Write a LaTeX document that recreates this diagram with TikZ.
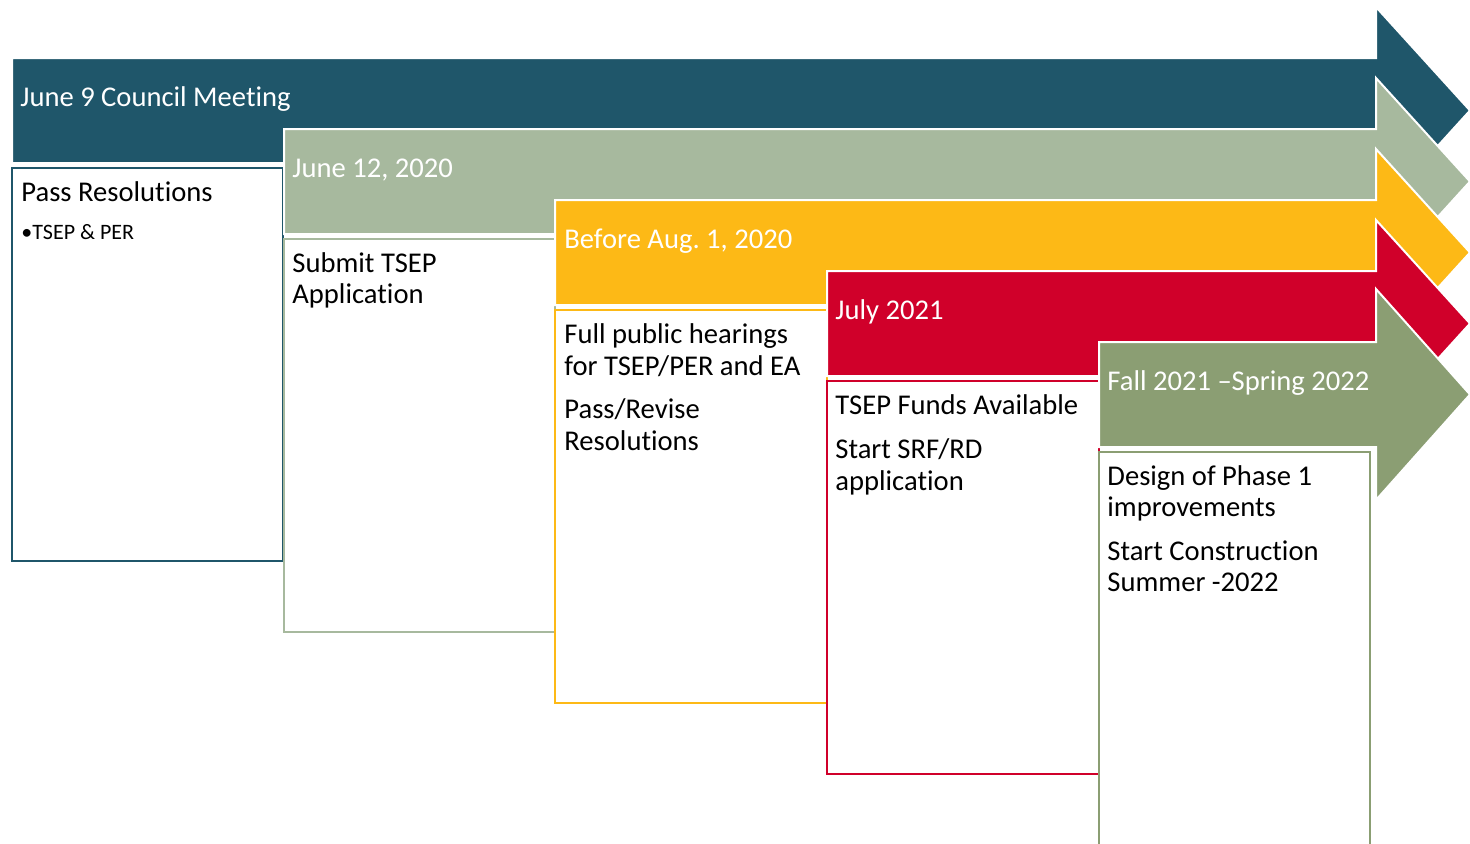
\documentclass[tikz,border=0pt]{standalone}
\usepackage{fontspec}
\setmainfont{Carlito}[Ligatures={NoCommon}]
\frenchspacing
\definecolor{cTeal}{RGB}{31,86,106}
\definecolor{cSage}{RGB}{167,185,158}
\definecolor{cGold}{RGB}{253,185,22}
\definecolor{cRed}{RGB}{208,0,42}
\definecolor{cOlive}{RGB}{139,158,115}
\begin{document}
\begin{tikzpicture}[x=0.5pt,y=-0.5pt,
  band/.style={draw=white,line width=1pt,line join=miter},
  card/.style={fill=white,line width=1pt},
  title/.style={anchor=base west,inner sep=0pt,text=white,font=\fontsize{14.3}{15.5}\selectfont},
  body/.style={anchor=base west,inner sep=0pt,text=black,font=\fontsize{14.3}{15.5}\selectfont},
  small/.style={anchor=base west,inner sep=0pt,text=black,font=\fontsize{11}{12}\selectfont}
]
\useasboundingbox (0,0) rectangle (1470,843);
\clip (0,0) rectangle (1470,843);

% stage 1
\fill[cTeal,band] (12,58) -- (1376,58) -- (1376,7) -- (1470,110.5) -- (1376,214) -- (1376,163) -- (12,163) -- cycle;
\node[title] (t1) at (20,106) {June 9 Council Meeting};
\draw[card,draw=cTeal] (12,168) rectangle (283,561);
\node[body] (b1a) at (21,201) {Pass Resolutions};
\node[small] (b1b) at (21,239) {•TSEP \& PER};

% stage 2
\fill[cSage,band] (284,129) -- (1376,129) -- (1376,78) -- (1470,181.5) -- (1376,285) -- (1376,234) -- (284,234) -- cycle;
\node[title] (t2) at (292,177) {June 12, 2020};
\draw[card,draw=cSage] (284,239) rectangle (555,632);
\node[body] (b2a) at (292,272) {Submit TSEP};
\node[body] (b2b) at (292,303) {Application};

% stage 3
\fill[cGold,band] (555,200) -- (1376,200) -- (1376,149) -- (1470,252.5) -- (1376,356) -- (1376,305) -- (555,305) -- cycle;
\node[title] (t3) at (564,248) {Before Aug.\ 1, 2020};
\draw[card,draw=cGold] (555,310) rectangle (827,703);
\node[body] (b3a) at (564,343) {Full public hearings};
\node[body] (b3b) at (564,375) {for TSEP/PER and EA};
\node[body] (b3c) at (564,418) {Pass/Revise};
\node[body] (b3d) at (564,450) {Resolutions};

% stage 4
\fill[cRed,band] (827,271) -- (1376,271) -- (1376,220) -- (1470,323.5) -- (1376,427) -- (1376,376) -- (827,376) -- cycle;
\node[title] (t4) at (835,319) {July 2021};
\draw[card,draw=cRed] (827,381) rectangle (1099,774);
\node[body] (b4a) at (835,414) {TSEP Funds Available};
\node[body] (b4b) at (835,458) {Start SRF/RD};
\node[body] (b4c) at (835,490) {application};

% stage 5
\fill[cOlive,band] (1099,342) -- (1376,342) -- (1376,289) -- (1470,394.5) -- (1376,500) -- (1376,447) -- (1099,447) -- cycle;
\node[title] (t5) at (1107,390) {Fall 2021 –Spring 2022};
\draw[card,draw=cOlive] (1099,452) rectangle (1370,860);
\node[body] (b5a) at (1107,485) {Design of Phase 1};
\node[body] (b5b) at (1107,516) {improvements};
\node[body] (b5c) at (1107,560) {Start Construction};
\node[body] (b5d) at (1107,591) {Summer -2022};
\end{tikzpicture}
\end{document}
